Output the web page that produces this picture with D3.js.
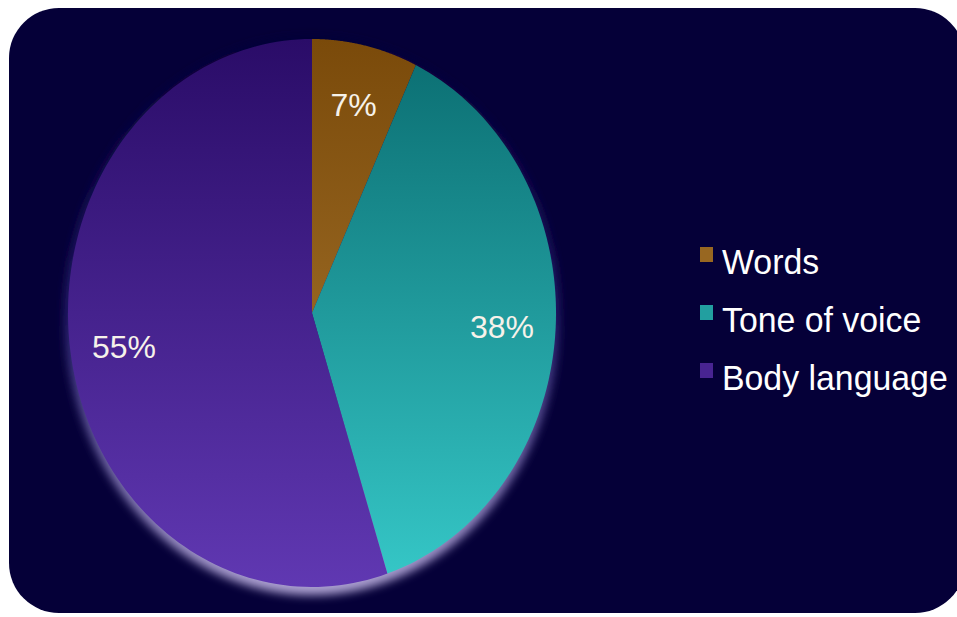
<!DOCTYPE html>
<html>
<head>
<meta charset="utf-8">
<script src="https://cdn.jsdelivr.net/npm/d3@7"></script>
<style>
  body { margin: 0; background: #ffffff; }
  text { font-family: "Liberation Sans", Arial, sans-serif; }
</style>
</head>
<body>
<div id="chart"></div>
<script>
// data
const categories = ['Words', 'Tone of voice', 'Body language']
const values = [7, 38, 55]
const labels = ['7%', '38%', '55%']
const colorsTop = ['#7a4a0a', '#0a6c70', '#2a0c68']
const colorsBottom = ['#b07e34', '#36c8c8', '#6038b2']

const W = 957
const H = 617

const svg = d3.select('#chart')
  .append('svg')
  .attr('width', W)
  .attr('height', H)

// panel
svg.append('rect')
  .attr('x', 9)
  .attr('y', 8)
  .attr('width', 956)
  .attr('height', 605)
  .attr('rx', 50)
  .attr('fill', '#050038')

const cx = 312
const cy = 313
const rx = 244
const ry = 274

const defs = svg.append('defs')

// gradients in the plot's local coords (centered on the pie)
categories.forEach((c, i) => {
  const g = defs.append('linearGradient')
    .attr('id', 'grad' + i)
    .attr('gradientUnits', 'userSpaceOnUse')
    .attr('x1', 0).attr('y1', -ry)
    .attr('x2', 0).attr('y2', ry)
  g.append('stop').attr('offset', '0%').attr('stop-color', colorsTop[i])
  g.append('stop').attr('offset', '100%').attr('stop-color', colorsBottom[i])
})

const glowGrad = defs.append('linearGradient')
  .attr('id', 'glowGrad')
  .attr('x1', 0).attr('y1', 0).attr('x2', 0).attr('y2', 1)
glowGrad.append('stop').attr('offset', '0%').attr('stop-color', '#050038')
glowGrad.append('stop').attr('offset', '50%').attr('stop-color', '#282070')
glowGrad.append('stop').attr('offset', '100%').attr('stop-color', '#b0a4d4')

defs.append('filter')
  .attr('id', 'blur')
  .attr('x', '-20%').attr('y', '-20%')
  .attr('width', '140%').attr('height', '140%')
  .append('feGaussianBlur')
  .attr('stdDeviation', 5)

const plot = svg.append('g')
  .attr('transform', `translate(${cx}, ${cy})`)

// glow behind the pie
plot.append('ellipse')
  .attr('cx', 0)
  .attr('cy', 3)
  .attr('rx', rx + 3)
  .attr('ry', ry + 5)
  .attr('fill', 'url(#glowGrad)')
  .attr('filter', 'url(#blur)')

const pie = d3.pie().sort(null).value(d => d)
const arcs = pie(values)

const labelArc = d3.arc().innerRadius(0.78).outerRadius(0.78)

// slice outline traced on the ellipse
function slicePath(d) {
  const p = d3.path()
  const steps = 120
  p.moveTo(0, 0)
  for (let k = 0; k <= steps; k++) {
    const a = d.startAngle + (d.endAngle - d.startAngle) * k / steps
    p.lineTo(Math.sin(a) * rx, -Math.cos(a) * ry)
  }
  p.closePath()
  return p.toString()
}

plot.selectAll('.slice')
  .data(arcs)
  .enter()
  .append('path')
  .attr('class', 'slice')
  .attr('d', slicePath)
  .attr('fill', (d, i) => `url(#grad${i})`)

plot.selectAll('.pct')
  .data(arcs)
  .enter()
  .append('text')
  .attr('class', 'pct')
  .attr('x', d => labelArc.centroid(d)[0] * rx)
  .attr('y', d => labelArc.centroid(d)[1] * ry)
  .attr('dy', '0.35em')
  .attr('text-anchor', 'middle')
  .attr('font-size', 32)
  .attr('fill', '#f6f2ea')
  .text((d, i) => labels[i])

// legend
const legend = svg.append('g')
  .attr('class', 'legend')
  .attr('transform', 'translate(700, 274)')

const item = legend.selectAll('.item')
  .data(categories)
  .enter()
  .append('g')
  .attr('class', 'item')
  .attr('transform', (d, i) => `translate(0, ${i * 58})`)

item.append('rect')
  .attr('x', 0)
  .attr('y', -27)
  .attr('width', 13)
  .attr('height', 15)
  .attr('fill', (d, i) => d3.interpolateRgb(colorsTop[i], colorsBottom[i])(0.55))

item.append('text')
  .attr('transform', 'translate(22, 0) scale(0.94, 1)')
  .attr('font-size', 36)
  .attr('fill', '#ffffff')
  .text(d => d)
</script>
</body>
</html>
